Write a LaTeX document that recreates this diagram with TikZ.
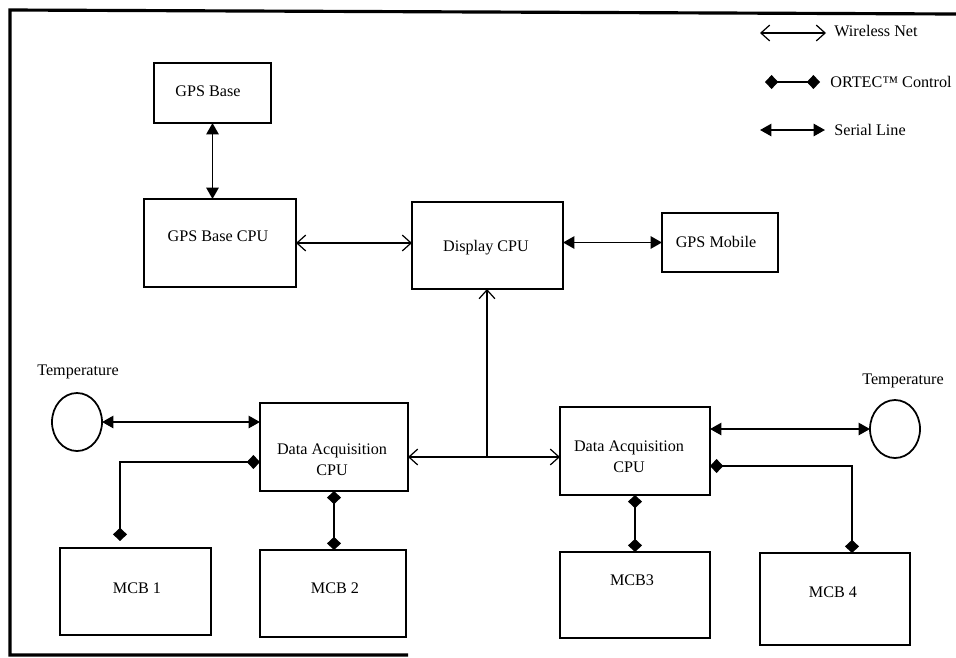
\documentclass[tikz,border=0pt]{standalone}
\usepackage{fontspec}
\setmainfont{Liberation Serif}
\usetikzlibrary{shapes,arrows.meta,calc}
\newcommand{\pxu}{0.02cm}

\begin{document}
\begin{tikzpicture}[x=0.02cm,y=-0.02cm]

\tikzstyle{blk} = [draw, rectangle, line width=1.1pt, inner sep=0, outer sep=0]
\tikzstyle{tmp} = [draw, ellipse, line width=1pt, inner sep=0, outer sep=0,
minimum width=50*\pxu, minimum height=58*\pxu]
\tikzstyle{txt} = [inner sep=0, font=\fontsize{9.2}{12}\selectfont]
\tikzset{stip/.tip={Triangle[length=6.5pt,width=7pt]},
wtip/.tip={Straight Barb[length=5pt,width=9pt]},
dtip/.tip={Diamond[length=7.5pt,width=8pt]}}
\tikzstyle{serial} = [line width=1.1pt, stip-stip]
\tikzstyle{wire} = [line width=0.7pt]
\tikzstyle{ortec} = [line width=0.8pt, dtip-dtip]

\useasboundingbox (0,0) rectangle (956,657);
\fill[white] (0,0) rectangle (956,657);

% frame
\draw[line width=1.8pt] (408,655) -- (10,655) -- (10,10) -- (956,14);

% top row
\node [blk, minimum width=117*\pxu, minimum height=60*\pxu] (gpsbase) at (212.5,93) {};
\node [txt] (gpsbaset) at (208,91) {GPS Base};

\node [blk, minimum width=152*\pxu, minimum height=88*\pxu] (basecpu) at (220,243) {};
\node [txt] (basecput) at (218,236) {GPS Base CPU};

\node [blk, minimum width=151*\pxu, minimum height=87*\pxu] (disp) at (487.5,245.5) {};
\node [txt] (dispt) at (486,248) {Display CPU};

\node [blk, minimum width=116*\pxu, minimum height=59*\pxu] (mobile) at (720,242.5) {};
\node [txt] (mobilet) at (716,242) {GPS Mobile};

% acquisition
\node [blk, minimum width=148*\pxu, minimum height=88*\pxu] (daq1) at (334,447) {};
\node [txt] (daq1t) at (332,461) {\begin{tabular}{c} Data Acquisition\\ CPU\end{tabular}};

\node [blk, minimum width=150*\pxu, minimum height=88*\pxu] (daq2) at (635,451) {};
\node [txt] (daq2t) at (629,458) {\begin{tabular}{c} Data Acquisition\\ CPU\end{tabular}};

\node [tmp] (temp1) at (77,422) {};
\node [txt] (temp1t) at (78,372) {Temperature};
\node [tmp] (temp2) at (895,429) {};
\node [txt] (temp2t) at (903,381) {Temperature};

% MCBs
\node [blk, minimum width=151*\pxu, minimum height=87*\pxu] (mcb1) at (135.5,591.5) {};
\node [txt] (mcb1t) at (137,588) {MCB 1};
\node [blk, minimum width=146*\pxu, minimum height=87*\pxu] (mcb2) at (333,593.5) {};
\node [txt] (mcb2t) at (335,588) {MCB 2};
\node [blk, minimum width=150*\pxu, minimum height=86*\pxu] (mcb3) at (635,595) {};
\node [txt] (mcb3t) at (632,580) {MCB3};
\node [blk, minimum width=150*\pxu, minimum height=92*\pxu] (mcb4) at (835,599) {};
\node [txt] (mcb4t) at (833,592) {MCB 4};

% links
\draw[serial] (gpsbase.south) -- (gpsbase.south |- basecpu.north);
\draw[wire, wtip-wtip] (basecpu.east) -- (basecpu.east -| disp.west);
\draw[serial] (mobile.west -| disp.east) -- (mobile.west);

\coordinate (hub) at (487,457);
\draw[wire, -wtip] (hub) -- (hub |- disp.south);
\draw[wire, wtip-wtip] (hub -| daq1.east) -- (hub -| daq2.west);

\draw[serial] (temp1.east) -- (temp1.east -| daq1.west);
\draw[serial] (temp2.west -| daq2.east) -- (temp2.west);

\coordinate (c1) at (120,462);
\draw[ortec, shorten >=4pt] (c1 -| daq1.west) -- (c1) -- (c1 |- mcb1.north);
\draw[ortec] (daq1.south) -- (daq1.south |- mcb2.north);
\draw[ortec] (daq2.south) -- (daq2.south |- mcb3.north);
\coordinate (c4) at (852,466);
\draw[ortec] (c4 -| daq2.east) -- (c4) -- (c4 |- mcb4.north);

% legend
\coordinate (lw1) at (760,33); \coordinate (lw2) at (826,33);
\coordinate (lo1) at (765,82); \coordinate (lo2) at (820,82);
\coordinate (ls1) at (760,130); \coordinate (ls2) at (825,130);
\draw[wire, wtip-wtip] (lw1) -- (lw2);
\draw[ortec] (lo1) -- (lo2);
\draw[serial] (ls1) -- (ls2);
\node [txt, anchor=west] (lwt) at (834,31) {Wireless Net};
\node [txt, anchor=west] (lot) at (830,82) {ORTEC™ Control};
\node [txt, anchor=west] (lst) at (834,130) {Serial Line};

\end{tikzpicture}
\end{document}
